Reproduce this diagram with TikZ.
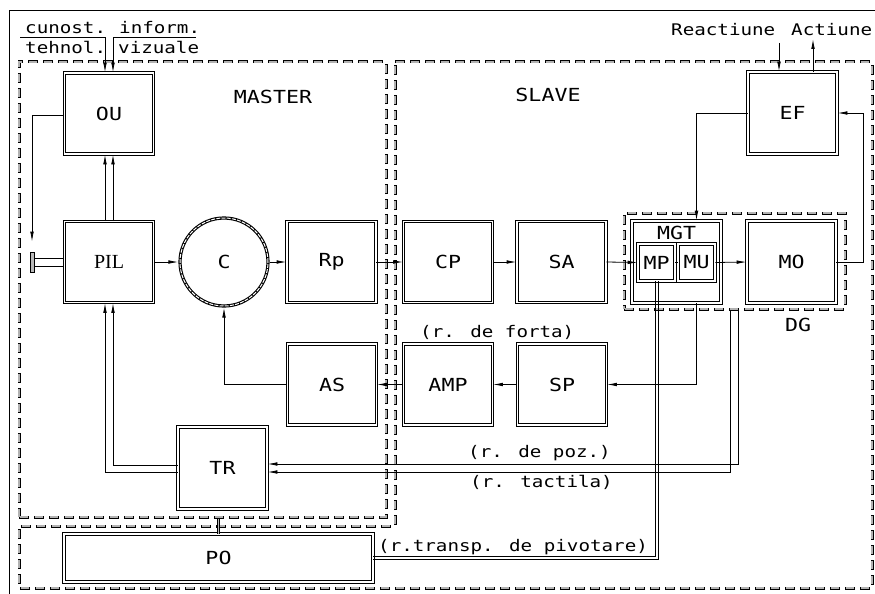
\documentclass[tikz,border=0pt]{standalone}
\usepackage{fontspec}
\usetikzlibrary{arrows.meta,calc}
\newfontfamily\cad[FakeStretch=1.2]{DejaVu Sans Mono}
\newfontfamily\pilf{Liberation Serif}
\begin{document}
\begin{tikzpicture}[x=1pt,y=-1pt,
 box/.style={draw, double, double distance=1.6pt, line width=0.8pt, minimum width=89pt, minimum height=81pt, inner sep=0pt, font=\cad\fontsize{18}{18}\selectfont},
 dbox/.style={draw=black, line width=3pt, dash pattern=on 10pt off 5pt,
   postaction={draw=gray!60, line width=1.3pt, dash pattern=on 8.6pt off 6.4pt, dash phase=14.3pt}},
 arr/.style={draw, line width=0.8pt, -{Latex[length=10pt,width=3.6pt]}},
 ln/.style={draw, line width=0.8pt},
 lbl/.style={inner sep=0pt, font=\cad\fontsize{18}{18}\selectfont},
 sml/.style={inner sep=0pt, font=\cad\fontsize{16}{16}\selectfont},
]
\useasboundingbox (0,0) rectangle (875,594);
% outer frame
\draw[line width=0.8pt] (9,600) -- (9,10) -- (880,10);
% dashed regions
\node[dbox, minimum width=367pt, minimum height=455pt, inner sep=0pt] (MASTER) at (202.5,289.5) {};
\draw[dbox] (395,62) -- (872,62) -- (872,588) -- (19,588) -- (19,526) -- (395,526) -- cycle;
\node[dbox, minimum width=221pt, minimum height=96pt, inner sep=0pt] (DG) at (734.5,261) {};
% region labels
\node[lbl] (mastert) at (273,97) {MASTER};
\node[lbl] (slavet) at (548,95) {SLAVE};
\node[lbl] (dgt) at (798,325) {DG};
% boxes
\node[box] (OU) at (109,113.5) {OU};
\node[box, font=\pilf\fontsize{20}{20}\selectfont] (PIL) at (109,262) {PIL};
\node[draw, circle, minimum size=88pt, line width=3.2pt, inner sep=0pt, font=\cad\fontsize{18}{18}\selectfont] (C) at (224,262) {C};
\draw[white, line width=1pt, dash pattern=on 4pt off 1.2pt] (C.center) circle[radius=44pt];
\node[box] (Rp) at (331.5,262) {Rp};
\node[box] (CP) at (448,262) {CP};
\node[box] (SA) at (561.5,262) {SA};
\node[box, minimum height=82pt] (MGT) at (676.5,262) {};
\node[lbl] (mgtt) at (676.5,233) {MGT};
\node[box, minimum width=37pt, minimum height=37pt] (MP) at (656.5,262.5) {MP};
\node[box, minimum width=37pt, minimum height=37pt] (MU) at (696.5,262.5) {MU};
\node[box, minimum height=82pt] (MO) at (791.5,262) {MO};
\node[box, minimum height=82pt] (EF) at (792.5,113) {EF};
\node[box] (AS) at (332,384.5) {AS};
\node[box] (AMP) at (448,384.5) {AMP};
\node[box] (SP) at (562,384.5) {SP};
\node[box, minimum height=82pt] (TR) at (222.5,468) {TR};
\node[box, minimum width=309pt, minimum height=48pt] (PO) at (218.5,558) {PO};
\node[draw, fill=gray!55, line width=0.6pt, minimum width=4pt, minimum height=20pt, inner sep=0pt] (bar) at (32,262) {};
% top texts
\node[sml, anchor=base west] (cun) at (25,34) {cunost.};
\node[sml, anchor=base west] (teh) at (25,53) {tehnol.};
\node[sml, anchor=base west] (inf) at (119,34) {inform.};
\node[sml, anchor=base west] (viz) at (118,53) {vizuale};
\node[sml, anchor=base west] (rea) at (671,36) {Reactiune};
\node[sml, anchor=base west] (act) at (791,36) {Actiune};
\node[sml, anchor=base west] (rforta) at (420,337) {(r. de forta)};
\node[sml, anchor=base west] (rpoz) at (468,457) {(r. de poz.)};
\node[sml, anchor=base west] (rtact) at (470,487) {(r. tactila)};
\node[sml, anchor=base west] (rtransp) at (378,551) {(r.transp. de pivotare)};
% coordinates
\coordinate (cl) at (20,37);
\coordinate (cr) at (196,37);
\coordinate (re) at (779,43);
\coordinate (ac) at (813,39);
\coordinate (mor) at (863,262);
% connectors
\draw[arr] (cl) -| ([xshift=-4pt]OU.north);
\draw[arr] (cr) -| ([xshift=4pt]OU.north);
\draw[arr] ([xshift=-4pt]PIL.north) -- ([xshift=-4pt]OU.south);
\draw[arr] ([xshift=4pt]PIL.north) -- ([xshift=4pt]OU.south);
\draw[arr, shorten >=10pt] ([yshift=-1.5pt]OU.west) -| (bar.north);
\draw[ln] ([yshift=-4pt]bar.east) -- ([yshift=-4pt]bar.east -| PIL.west);
\draw[ln] ([yshift=4pt]bar.east) -- ([yshift=4pt]bar.east -| PIL.west);
\draw[arr] ([yshift=3pt]TR.west) -| ([xshift=4pt]PIL.south);
\draw[arr] ([yshift=-4pt]TR.west) -| ([xshift=-4pt]PIL.south);
\draw[arr] (PIL.east) -- (C.west);
\draw[arr] (C.east) -- (Rp.west);
\draw[arr] (Rp.east) -- (CP.west);
\draw[arr] (CP.east) -- (SA.west);
\draw[arr] (SA.east) -- (MP.west);
\draw[ln] (MP.east) -- (MU.west);
\draw[arr] (MU.east) -- (MO.west);
\draw[arr] (MO.east) -- (mor) |- (EF.east);
\draw[arr] (EF.west) -| (MU.north |- MGT.north);
\draw[arr] (re) -- (re |- EF.north);
\draw[arr] (ac |- EF.north) -- (ac);
\draw[arr] (MU.south |- MGT.south) |- (SP.east);
\draw[arr] (SP.west) -- (AMP.east);
\draw[arr] (AMP.west) -- (AS.east);
\draw[arr] (AS.west) -| (C.south);
\draw[ln] ([xshift=-1.6pt]MP.south) |- ([yshift=1.6pt]PO.east);
\draw[ln] ([xshift=1.6pt]MP.south) |- ([yshift=-1.6pt]PO.east);
\draw[arr] ([xshift=-4pt]DG.south) |- ([yshift=-4pt]TR.east);
\draw[arr] ([xshift=4pt]DG.south) |- ([yshift=4pt]TR.east);
\draw[double=gray!55, double distance=1.8pt, line width=0.6pt] (PO.north |- MASTER.south) -- (PO.north);
\end{tikzpicture}
\end{document}
